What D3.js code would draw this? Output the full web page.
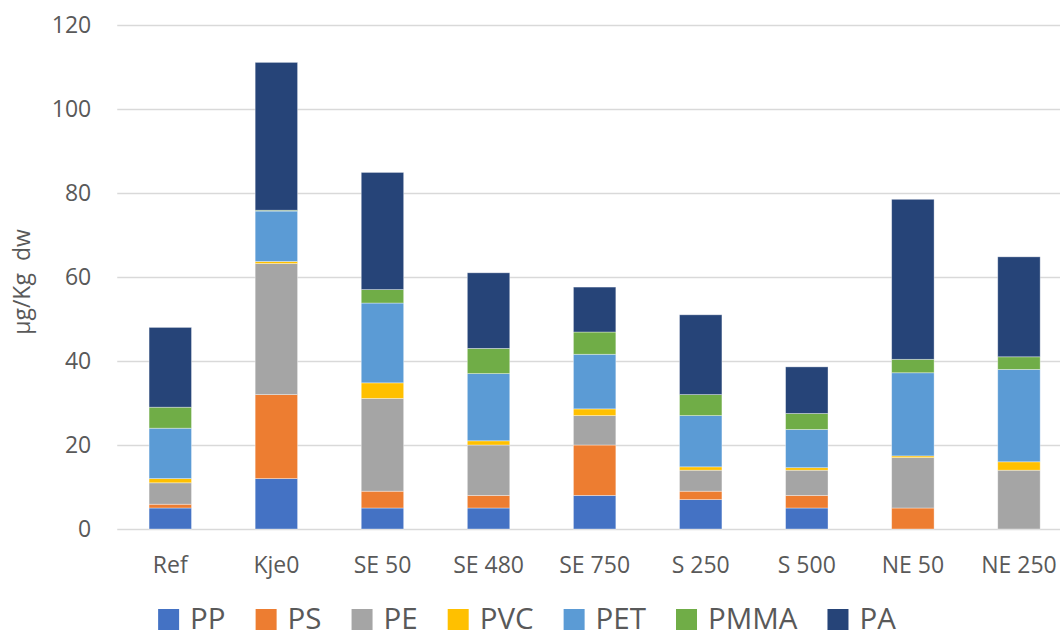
<!DOCTYPE html>
<html>
<head>
<meta charset="utf-8">
<script src="https://cdn.jsdelivr.net/npm/d3@7/dist/d3.min.js"></script>
<style>
  html, body { margin: 0; padding: 0; background: #fff; }
  svg { display: block; }
  text { font-family: "Open Sans", "DejaVu Sans", sans-serif; fill: #595959; }
</style>
</head>
<body>
<svg id="chart" width="1060" height="638"></svg>
<script>
// ---- data ----
const categories = ["Ref", "Kje0", "SE 50", "SE 480", "SE 750", "S 250", "S 500", "NE 50", "NE 250"];
const seriesNames = ["PP", "PS", "PE", "PVC", "PET", "PMMA", "PA"];
const PP   = [5,   12,   5,    5,  8,    7,    5,   0,    0];
const PS   = [0.9, 20,   4,    3,  12,   2,    3,   5,    0];
const PE   = [5.1, 31.2, 22.1, 12, 7,    5,    6,   12,   14];
const PVC  = [1,   0.5,  3.7,  1,  1.6,  0.8,  0.6, 0.4,  2];
const PET  = [12,  12,   19,   16, 13,   12.2, 9.1, 19.8, 22];
const PMMA = [5,   0.2,  3.2,  6,  5.3,  5,    3.8, 3.2,  3];
const PA   = [19,  35.2, 27.9, 18, 10.7, 19,   11.1, 38.1, 23.8];
const yTicks = [0, 20, 40, 60, 80, 100, 120];
const yTitle = "µg/Kg  dw";
const colors = ["#4472C4", "#ED7D31", "#A5A5A5", "#FFC000", "#5B9BD5", "#70AD47", "#264478"];

// ---- build table ----
const seriesValues = [PP, PS, PE, PVC, PET, PMMA, PA];
const table = categories.map((c, i) => {
  const row = { cat: c };
  seriesNames.forEach((s, j) => row[s] = seriesValues[j][i]);
  return row;
});
const stacked = d3.stack().keys(seriesNames)(table);

// ---- layout ----
const svg = d3.select("#chart");
const plotLeft = 117.25, plotRight = 1072, plotTop = 25, plotBottom = 529;

const x = d3.scaleBand().domain(categories).range([plotLeft, plotRight])
  .paddingInner(0.6).paddingOuter(0.3);
const y = d3.scaleLinear().domain([0, 120]).range([plotBottom, plotTop]);

// gridlines
const yAxis = d3.axisLeft(y).tickValues(yTicks).tickSize(-(plotRight - plotLeft)).tickPadding(26);
const gy = svg.append("g").attr("transform", `translate(${plotLeft},0)`).call(yAxis);
gy.select(".domain").remove();
gy.selectAll(".tick line").attr("stroke", "#d9d9d9").attr("stroke-width", 1.3);
gy.selectAll(".tick text").attr("font-size", 23).attr("fill", "#595959")
  .style("font-family", '"Open Sans", sans-serif');

// bars
const color = d3.scaleOrdinal().domain(seriesNames).range(colors);
svg.append("g").selectAll("g").data(stacked).join("g")
  .attr("fill", d => color(d.key))
  .selectAll("rect").data(d => d).join("rect")
  .attr("x", d => x(d.data.cat))
  .attr("width", x.bandwidth())
  .attr("y", d => y(d[1]))
  .attr("height", d => Math.max(0, y(d[0]) - y(d[1])))
  .attr("stroke", d => (d[1] - d[0]) > 0 ? "#ffffff" : "none")
  .attr("stroke-opacity", 0.45)
  .attr("stroke-width", 0.8);

// x axis labels
const xAxis = d3.axisBottom(x).tickSize(0).tickPadding(28);
const gx = svg.append("g").attr("transform", `translate(0,${plotBottom})`).call(xAxis);
gx.select(".domain").remove();
gx.selectAll(".tick text").attr("font-size", 23).attr("fill", "#595959")
  .style("font-family", '"Open Sans", sans-serif');

// y title
svg.append("text")
  .attr("transform", `translate(30,${(plotTop + plotBottom) / 2 + 5}) rotate(-90)`)
  .attr("text-anchor", "middle")
  .attr("font-size", 23)
  .style("white-space", "pre")
  .attr("xml:space", "preserve")
  .text(yTitle);

// legend
const legend = svg.append("g");
const sw = 21, gapText = 11, gapItem = 30;
let cx = 0;
seriesNames.forEach(name => {
  const g = legend.append("g");
  g.append("rect").attr("width", sw).attr("height", sw).attr("y", -sw + 1).attr("fill", color(name));
  const t = g.append("text").attr("x", sw + gapText).attr("y", 0).attr("font-size", 29.5).text(name);
  const w = sw + gapText + t.node().getComputedTextLength();
  g.attr("transform", `translate(${cx},0)`);
  cx += w + gapItem;
});
const totalW = cx - gapItem;
legend.attr("transform", `translate(${527 - totalW / 2},629)`);
</script>
</body>
</html>
